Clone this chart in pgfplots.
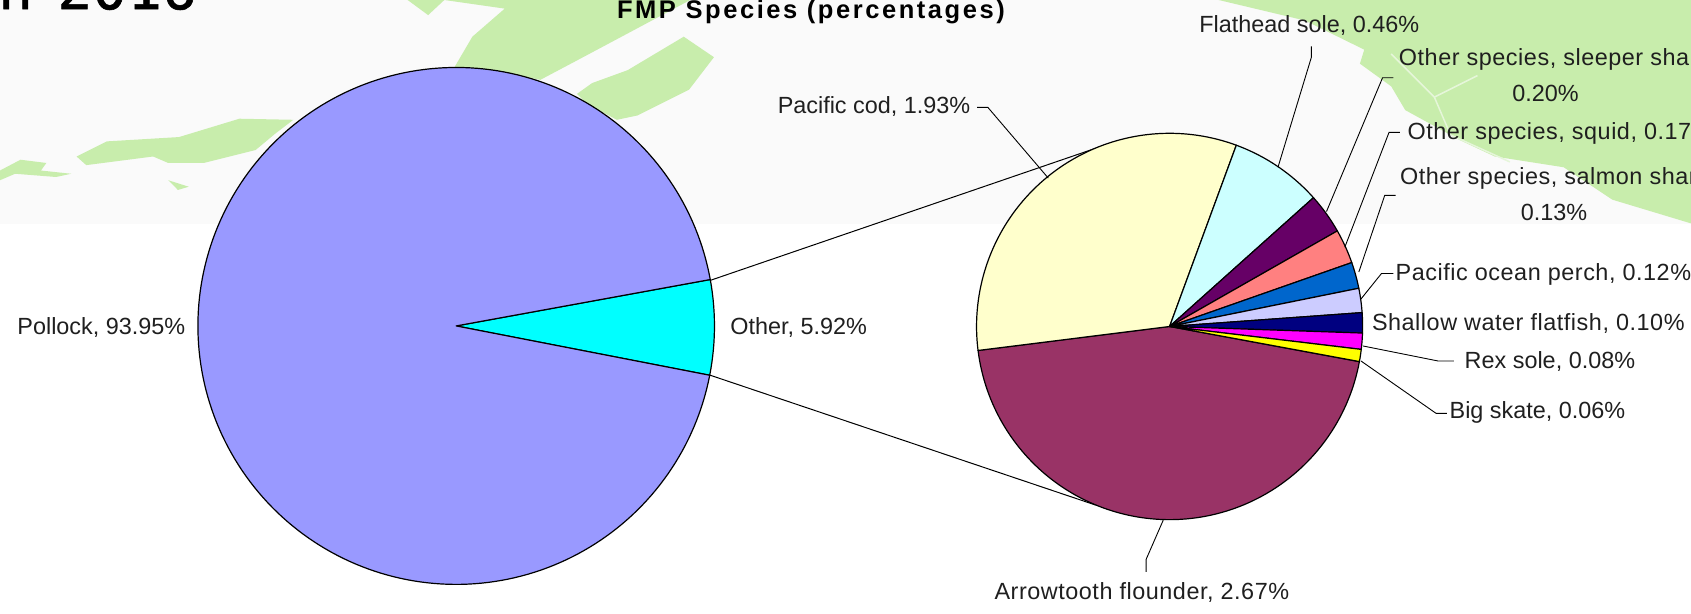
\documentclass[border=0pt]{standalone}
\usepackage{pgfplots}
\usepackage{pgfplotstable}
\usepackage{fontspec}
\setmainfont{Liberation Sans}
\newfontfamily\handfont{DejaVu Sans Mono}[FakeBold=1]
\newfontfamily\titlefont{Liberation Sans Bold}[LetterSpace=10]
\newfontfamily\spfont{Liberation Sans}[LetterSpace=2.3]
\pgfplotsset{compat=1.18}
\definecolor{land}{HTML}{C8EDAC}
\definecolor{band}{HTML}{FAFAFA}
\definecolor{chan}{HTML}{E6F6DA}
\definecolor{cPollock}{HTML}{9999FF}
\definecolor{cOther}{HTML}{00FFFF}
\definecolor{cArrow}{HTML}{993366}
\definecolor{cCod}{HTML}{FFFFCC}
\definecolor{cFlat}{HTML}{CCFFFF}
\definecolor{cSleep}{HTML}{660066}
\definecolor{cSquid}{HTML}{FF8080}
\definecolor{cSalmon}{HTML}{0066CC}
\definecolor{cPerch}{HTML}{CCCCFF}
\definecolor{cShallow}{HTML}{000080}
\definecolor{cRex}{HTML}{FF00FF}
\definecolor{cSkate}{HTML}{FFFF00}
\pgfplotstableread{
value colour
5.92 cOther
93.95 cPollock
}\leftpie
\pgfplotstableread{
value colour
2.67 cArrow
1.93 cCod
0.46 cFlat
0.20 cSleep
0.17 cSquid
0.13 cSalmon
0.12 cPerch
0.10 cShallow
0.08 cRex
0.06 cSkate
}\rightpie
% #1 table, #2 total, #3 cx, #4 cy, #5 r, #6 start angle, #7 direction (+1 ccw, -1 cw)
\newcommand{\drawpie}[7]{%
  \pgfplotstablegetrowsof{#1}\pgfmathtruncatemacro\lastrow{\pgfplotsretval-1}%
  \xdef\curang{#6}%
  \foreach \i in {0,...,\lastrow}{%
    \pgfplotstablegetelem{\i}{value}\of{#1}\let\val\pgfplotsretval
    \pgfplotstablegetelem{\i}{colour}\of{#1}\let\col\pgfplotsretval
    \pgfmathsetmacro\sweep{\val/#2*360}%
    \pgfmathtruncatemacro\nseg{max(2,ceil(\sweep/1.5))}%
    \pgfmathsetmacro\stepang{#7*\sweep/\nseg}%
    \xdef\pts{(#3,#4)}%
    \foreach \k in {0,...,\nseg}{%
      \pgfmathsetmacro\ang{\curang+\stepang*\k}%
      \pgfmathsetmacro\px{#3+#5*cos(\ang)}%
      \pgfmathsetmacro\py{#4-#5*sin(\ang)}%
      \xdef\pts{\pts (\px,\py)}%
    }%
    \edef\temp{\noexpand\addplot[fill=\col,draw=black,line width=1.2pt,line join=round] coordinates {\pts} -- cycle;}%
    \temp
    \pgfmathsetmacro\newang{\curang+#7*\sweep}%
    \xdef\curang{\newang}%
  }%
}
\newcommand{\lab}[4][]{\node[anchor=#2,inner sep=0pt,yshift=-1.5pt,text=black!88,font=\fontsize{23.4}{28}\selectfont,#1] at (axis cs:#3) {#4};}
\begin{document}
\begin{tikzpicture}
\clip (0,0) rectangle (1691pt,613pt);
\begin{axis}[at={(0,0)},anchor=south west,scale only axis,width=1691pt,height=613pt,
  xmin=0,xmax=1568,ymin=0,ymax=568,y dir=reverse,hide axis,clip=true]
% backdrop map
\addplot[fill=band,draw=none] coordinates {(0,0)(1568,0)(1568,208)(0,208)} -- cycle;
\addplot[fill=land,draw=none] coordinates {(378,0)(397,14)(412,0)} -- cycle;
\addplot[fill=land,draw=none] coordinates {(412,0)(468,8)(438,34)(421,63)(473,68)(501,74)(535,56)(582,31)(640,0)} -- cycle;
\addplot[fill=land,draw=none] coordinates {(535,87)(549,77)(582,65)(634,34)(662,53)(639,83)(591,107)(572,111)(544,96)} -- cycle;
\addplot[fill=land,draw=none] coordinates {(272,111)(222,110)(166,127)(99,131)(71,145)(80,153)(142,145)(156,151)(189,151)(237,139)(255,124)} -- cycle;
\addplot[fill=land,draw=none] coordinates {(0,158)(19,148)(43,151)(38,158)(66,161)(52,164)(14,161)(0,167)} -- cycle;
\addplot[fill=land,draw=none] coordinates {(156,167)(175,173)(165,176)} -- cycle;
\addplot[fill=land,draw=none] coordinates {(1130,0)(1210,19)(1265,46)(1261,59)(1290,80)(1303,102)(1354,130)(1386,145)(1450,155)(1495,185)(1568,207)(1568,0)} -- cycle;
\addplot[draw=chan,line width=1.5pt] coordinates {(1290,50)(1330,90)(1345,125)(1400,150)};
\addplot[draw=chan,line width=1.5pt] coordinates {(1330,90)(1370,70)};
% connector lines
\addplot[black,line width=1pt] coordinates {(658,260)(1020,136)};
\addplot[black,line width=1pt] coordinates {(658,347.5)(1016,468)};
% pies
\drawpie{\leftpie}{99.87}{423}{302}{239.5}{-11}{1}
\drawpie{\rightpie}{5.92}{1084.5}{302.5}{179}{-10.5}{-1}
% leader lines
\addplot[black,line width=.9pt] coordinates {(906,99.5)(916,99.5)(972,165)};
\addplot[black,line width=.9pt] coordinates {(1216,43)(1216,53)(1185,155)};
\addplot[black,line width=.9pt] coordinates {(1292,72)(1282,72)(1230,196)};
\addplot[black,line width=.9pt] coordinates {(1298,122.6)(1288,122.6)(1247,229)};
\addplot[black,line width=.9pt] coordinates {(1294,181)(1284,181)(1260,252)};
\addplot[black,line width=.9pt] coordinates {(1292,253.4)(1281,253.4)(1262,277)};
\addplot[black,line width=.9pt] coordinates {(1348,334.5)(1333.5,334.5)(1264,320.6)};
\addplot[black,line width=.9pt] coordinates {(1341.5,383)(1331.6,383)(1262,334.5)};
\addplot[black,line width=.9pt] coordinates {(1062.7,530)(1062.7,518.4)(1078.6,482)};
% labels
\lab{west}{16,302}{Pollock, 93.95\%}
\lab{west}{677,302}{Other, 5.92\%}
\lab{west}{721,97}{Pacific cod, 1.93\%}
\lab{west}{1112,22}{Flathead sole, 0.46\%}
\lab{west}{1297,54}{\spfont Other species, sleeper shark,}
\lab{center}{1433,85}{0.20\%}
\lab{west}{1305,122}{\spfont Other species, squid, 0.17\%}
\lab{west}{1298,164}{\spfont Other species, salmon shark,}
\lab{center}{1441,195}{0.13\%}
\lab{west}{1294,253}{\spfont Pacific ocean perch, 0.12\%}
\lab{west}{1272,298}{\spfont Shallow water flatfish, 0.10\%}
\lab{west}{1358,334}{Rex sole, 0.08\%}
\lab{west}{1344,381}{Big skate, 0.06\%}
\lab{west}{922,548}{\spfont Arrowtooth flounder, 2.67\%}
\node[anchor=base west,inner sep=0pt,font=\titlefont\fontsize{25.5}{28}\selectfont] at (axis cs:572,17) {FMP Species (percentages)};
\node[anchor=base west,inner sep=0pt,font=\handfont\fontsize{58}{60}\selectfont] at (axis cs:-2,8.5) {n};
\node[anchor=base west,inner sep=0pt,font=\handfont\fontsize{58}{60}\selectfont] at (axis cs:53,8.5) {2016};
\end{axis}
\end{tikzpicture}
\end{document}
